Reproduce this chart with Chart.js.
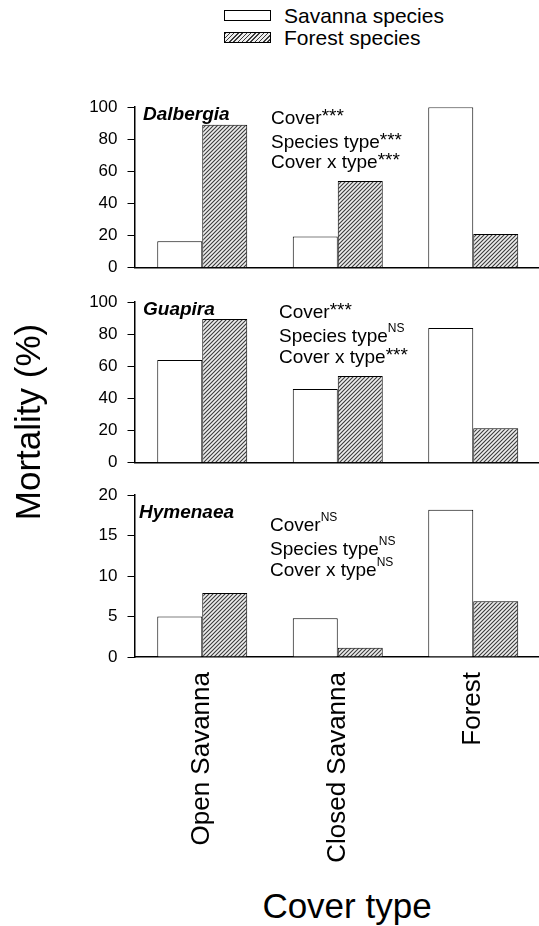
<!DOCTYPE html>
<html><head><meta charset="utf-8">
<script src="https://cdn.jsdelivr.net/npm/chart.js@4.4.1/dist/chart.umd.min.js"></script>
<style>
html,body{margin:0;padding:0;background:#fff;overflow:hidden;width:539px;height:926px;}
body{position:relative;font-family:"Liberation Sans",Arial,sans-serif;color:#000;}
.abs{position:absolute;white-space:nowrap;}
canvas{position:absolute;left:0;}
.ann{font-size:19px;line-height:20px;}
.ast{vertical-align:2px;line-height:0;}
.ns{font-size:12px;vertical-align:10px;line-height:0;}
.sp{font-size:19px;line-height:20px;font-weight:bold;font-style:italic;}
</style></head><body>

<div class="abs" style="left:224px;top:10px;width:47px;height:11px;box-sizing:border-box;border:1px solid #000;background:#fff;"></div>
<div class="abs" style="left:284px;top:5px;font-size:21px;line-height:21px;">Savanna species</div>
<div class="abs" style="left:224px;top:32px;width:47px;height:11px;box-sizing:border-box;border:1px solid #000;background:repeating-linear-gradient(135deg,#3a3a3a 0 1px,#eeeeee 1px 3px);"></div>
<div class="abs" style="left:284px;top:27px;font-size:21px;line-height:21px;">Forest species</div>

<canvas id="c1" width="541" height="201" style="top:87px;width:541px;height:201px;"></canvas>
<canvas id="c2" width="541" height="201" style="top:282px;width:541px;height:201px;"></canvas>
<canvas id="c3" width="541" height="392" style="top:475px;width:541px;height:392px;"></canvas>

<div class="abs sp" style="left:143px;top:104px;">Dalbergia</div>
<div class="abs ann" style="left:271px;top:108px;">Cover<span class="ast">***</span></div>
<div class="abs ann" style="left:271px;top:132px;">Species type<span class="ast">***</span></div>
<div class="abs ann" style="left:271px;top:152px;">Cover x type<span class="ast">***</span></div>

<div class="abs sp" style="left:143px;top:299px;">Guapira</div>
<div class="abs ann" style="left:279px;top:302px;">Cover<span class="ast">***</span></div>
<div class="abs ann" style="left:279px;top:326px;">Species type<span class="ns">NS</span></div>
<div class="abs ann" style="left:279px;top:347px;">Cover x type<span class="ast">***</span></div>

<div class="abs sp" style="left:139px;top:502px;">Hymenaea</div>
<div class="abs ann" style="left:270px;top:515px;">Cover<span class="ns">NS</span></div>
<div class="abs ann" style="left:270px;top:539px;">Species type<span class="ns">NS</span></div>
<div class="abs ann" style="left:270px;top:560px;">Cover x type<span class="ns">NS</span></div>

<div class="abs" style="left:-122px;top:404px;width:300px;text-align:center;font-size:35px;line-height:36px;transform:rotate(-90deg);transform-origin:150px 18px;">Mortality (%)</div>
<div class="abs" style="left:197px;top:888px;width:300px;text-align:center;font-size:35px;line-height:36px;">Cover type</div>

<script>
const categories = ['Open Savanna', 'Closed Savanna', 'Forest'];
const seriesNames = ['Savanna species', 'Forest species'];
const dalbergiaSavanna = [16.5, 19.5, 100];
const dalbergiaForest = [89, 54, 21];
const guapiraSavanna = [64, 46, 84];
const guapiraForest = [89.5, 54, 21.5];
const hymenaeaSavanna = [5.0, 4.8, 18.2];
const hymenaeaForest = [7.9, 1.15, 6.9];
const yTicks100 = [0, 20, 40, 60, 80, 100];
const yTicks20 = [0, 5, 10, 15, 20];

const FONT = '"Liberation Sans", Arial, sans-serif';

function makeHatch() {
  const s = 4;
  const c = document.createElement('canvas');
  c.width = s; c.height = s;
  const g = c.getContext('2d');
  g.fillStyle = '#eeeeee';
  g.fillRect(0, 0, s, s);
  g.strokeStyle = '#3a3a3a';
  g.lineWidth = 1.1;
  g.beginPath();
  g.moveTo(0, s); g.lineTo(s, 0);
  g.moveTo(-1, 1); g.lineTo(1, -1);
  g.moveTo(s - 1, s + 1); g.lineTo(s + 1, s - 1);
  g.stroke();
  return g.createPattern(c, 'repeat');
}
const hatch = makeHatch();

function makeChart(id, sav, forest, ticks, showX) {
  const ymax = ticks[ticks.length - 1];
  return new Chart(document.getElementById(id), {
    type: 'bar',
    data: {
      labels: categories,
      datasets: [
        { label: seriesNames[0], data: sav, backgroundColor: '#ffffff', borderColor: '#000', borderWidth: 1 },
        { label: seriesNames[1], data: forest, backgroundColor: hatch, borderColor: '#000', borderWidth: 1 }
      ]
    },
    options: {
      responsive: false,
      animation: false,
      events: [],
      layout: { padding: { top: 0, bottom: 0, left: 0, right: 0 } },
      plugins: { legend: { display: false }, tooltip: { enabled: false } },
      datasets: { bar: { categoryPercentage: 0.664, barPercentage: 1 } },
      scales: {
        x: {
          grid: { display: false, drawTicks: false },
          border: { display: true, color: '#000', width: 1.5 },
          ticks: { display: showX, minRotation: 90, maxRotation: 90, padding: 15, autoSkip: false,
                   color: '#000', font: { family: FONT, size: 26 } },
          afterFit: s => { s.height = showX ? 210 : 0; }
        },
        y: {
          min: 0, max: ymax,
          afterBuildTicks: s => { s.ticks = ticks.map(v => ({ value: v })); },
          grid: { drawOnChartArea: false, drawTicks: true, tickLength: 7, color: '#000', lineWidth: 1 },
          border: { display: true, color: '#000', width: 1.5 },
          ticks: { padding: 10, color: '#000', font: { family: FONT, size: 17 } },
          afterFit: s => { s.width = 134.5; }
        }
      }
    }
  });
}

makeChart('c1', dalbergiaSavanna, dalbergiaForest, yTicks100, false);
makeChart('c2', guapiraSavanna, guapiraForest, yTicks100, false);
makeChart('c3', hymenaeaSavanna, hymenaeaForest, yTicks20, true);
</script>
</body></html>
